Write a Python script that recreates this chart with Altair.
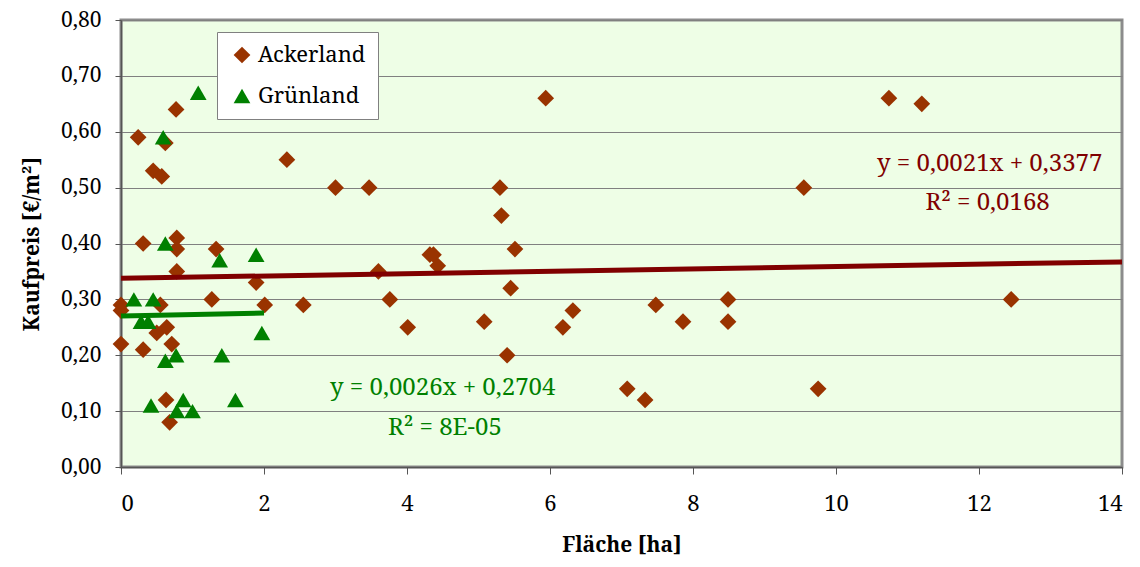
import altair as alt
import pandas as pd

# --- data ---
series_names = ["Ackerland", "Grünland"]

ack_x = [0, 0, 0, 0.24, 0.31, 0.31, 0.45, 0.57, 0.62, 0.77, 0.78, 0.78, 0.78, 0.55, 0.50,
         0.64, 0.71, 0.63, 0.68, 1.33, 1.27, 1.89, 2.01, 2.55, 2.32, 3.0, 3.47, 3.6, 3.76,
         4.01, 4.32, 4.37, 4.43, 5.08, 5.3, 5.32, 5.4, 5.45, 5.51, 5.94, 6.18, 6.32, 7.08,
         7.33, 7.48, 7.86, 8.49, 8.49, 9.55, 9.75, 10.74, 11.2, 12.45]
ack_y = [0.22, 0.29, 0.28, 0.59, 0.40, 0.21, 0.53, 0.52, 0.58, 0.64, 0.41, 0.39, 0.35, 0.29, 0.24,
         0.25, 0.22, 0.12, 0.08, 0.39, 0.30, 0.33, 0.29, 0.29, 0.55, 0.50, 0.50, 0.35, 0.30,
         0.25, 0.38, 0.38, 0.36, 0.26, 0.50, 0.45, 0.20, 0.32, 0.39, 0.66, 0.25, 0.28, 0.14,
         0.12, 0.29, 0.26, 0.30, 0.26, 0.50, 0.14, 0.66, 0.65, 0.30]

gr_x = [1.08, 0.59, 0.62, 1.38, 1.89, 0.18, 0.45, 0.28, 0.38, 1.97, 0.62, 0.77, 1.41,
        0.42, 0.87, 0.78, 1.0, 1.6]
gr_y = [0.67, 0.59, 0.40, 0.37, 0.38, 0.30, 0.30, 0.26, 0.26, 0.24, 0.19, 0.20, 0.20,
        0.11, 0.12, 0.10, 0.10, 0.12]

# trend lines as stated in the chart (slope, intercept, x-extent)
ack_trend = {"slope": 0.0021, "intercept": 0.3377, "x": [0, 14]}
gr_trend = {"slope": 0.0026, "intercept": 0.2704, "x": [0, 2.0]}

x_ticks = [0, 2, 4, 6, 8, 10, 12, 14]
y_ticks = [0.0, 0.1, 0.2, 0.3, 0.4, 0.5, 0.6, 0.7, 0.8]

eq_text = ["y = 0,0021x + 0,3377", "R² = 0,0168", "y = 0,0026x + 0,2704", "R² = 8E-05"]
eq_x = [12.15, 12.12, 4.5, 4.53]
eq_y = [0.542, 0.472, 0.141, 0.070]
eq_col = ["#800000", "#800000", "#008000", "#008000"]

# --- tables ---
pts = pd.DataFrame({
    "x": ack_x + gr_x,
    "y": ack_y + gr_y,
    "series": ["Ackerland"] * len(ack_x) + ["Grünland"] * len(gr_x),
})

def trend_df(t, name):
    return pd.DataFrame({"x": t["x"], "slope": [t["slope"]] * 2,
                         "intercept": [t["intercept"]] * 2, "series": [name] * 2})

FONT = "Noto Serif"
xscale = alt.Scale(domain=[0, 14], nice=False, zero=False)
yscale = alt.Scale(domain=[0, 0.8], nice=False)

xenc = alt.X("x:Q", scale=xscale, axis=alt.Axis(
    values=x_ticks, format="d", title="Fläche [ha]", grid=False,
    labelFont=FONT, labelFontSize=22, labelColor="black", labelPadding=19,
    tickSize=7, tickColor="#555", domainColor="#555", domainWidth=1.5,
    titleFont=FONT, titleFontSize=21, titleFontWeight="bold", titleColor="black",
    titlePadding=20))
yenc = alt.Y("y:Q", scale=yscale, axis=alt.Axis(
    values=y_ticks, labelExpr="replace(format(datum.value, '.2f'), '.', ',')",
    title="Kaufpreis [€/m²]", grid=True, gridColor="#808080", gridWidth=1,
    labelFont=FONT, labelFontSize=21, labelColor="black", labelPadding=14,
    tickSize=6, tickColor="#555", domainColor="#555", domainWidth=1.5,
    titleFont=FONT, titleFontSize=21, titleFontWeight="bold", titleColor="black",
    titlePadding=18))

legend = alt.Legend(title=None, orient="none", legendX=96, legendY=12,
                    labelFont=FONT, labelFontSize=22, labelColor="black",
                    fillColor="white", strokeColor="#808080", padding=12,
                    rowPadding=19, symbolSize=280, symbolStrokeWidth=0,
                    labelOffset=5, symbolOffset=2)

points = alt.Chart(pts).mark_point(filled=True, size=280, opacity=1).encode(
    x=xenc, y=yenc,
    color=alt.Color("series:N", scale=alt.Scale(domain=series_names, range=["#993300", "#008000"]),
                    legend=legend),
    shape=alt.Shape("series:N", scale=alt.Scale(domain=series_names, range=["diamond", "triangle-up"]),
                    legend=legend),
)

def trend_layer(t, name, color):
    return alt.Chart(trend_df(t, name)).transform_calculate(
        y="datum.slope * datum.x + datum.intercept"
    ).mark_line(color=color, strokeWidth=5).encode(x="x:Q", y="y:Q")

ack_line = trend_layer(ack_trend, "Ackerland", "#800000")
gr_line = trend_layer(gr_trend, "Grünland", "#008000")

eq = pd.DataFrame({"x": eq_x, "y": eq_y, "text": eq_text, "col": eq_col})
texts = alt.Chart(eq).mark_text(font=FONT, fontSize=24, baseline="middle", align="center").encode(
    x="x:Q", y="y:Q", text="text:N", color=alt.Color("col:N", scale=None))

chart = alt.layer(points, ack_line, gr_line, texts).properties(
    width=1001, height=447,
    autosize=alt.AutoSizeParams(type="none"),
    padding={"left": 113, "top": 12, "right": 10, "bottom": 92},
).configure_view(fill="#EEFEE6", stroke="#8c8c8c", strokeWidth=3)

chart.save("out.html", embed_options={"renderer": "svg", "actions": False})
